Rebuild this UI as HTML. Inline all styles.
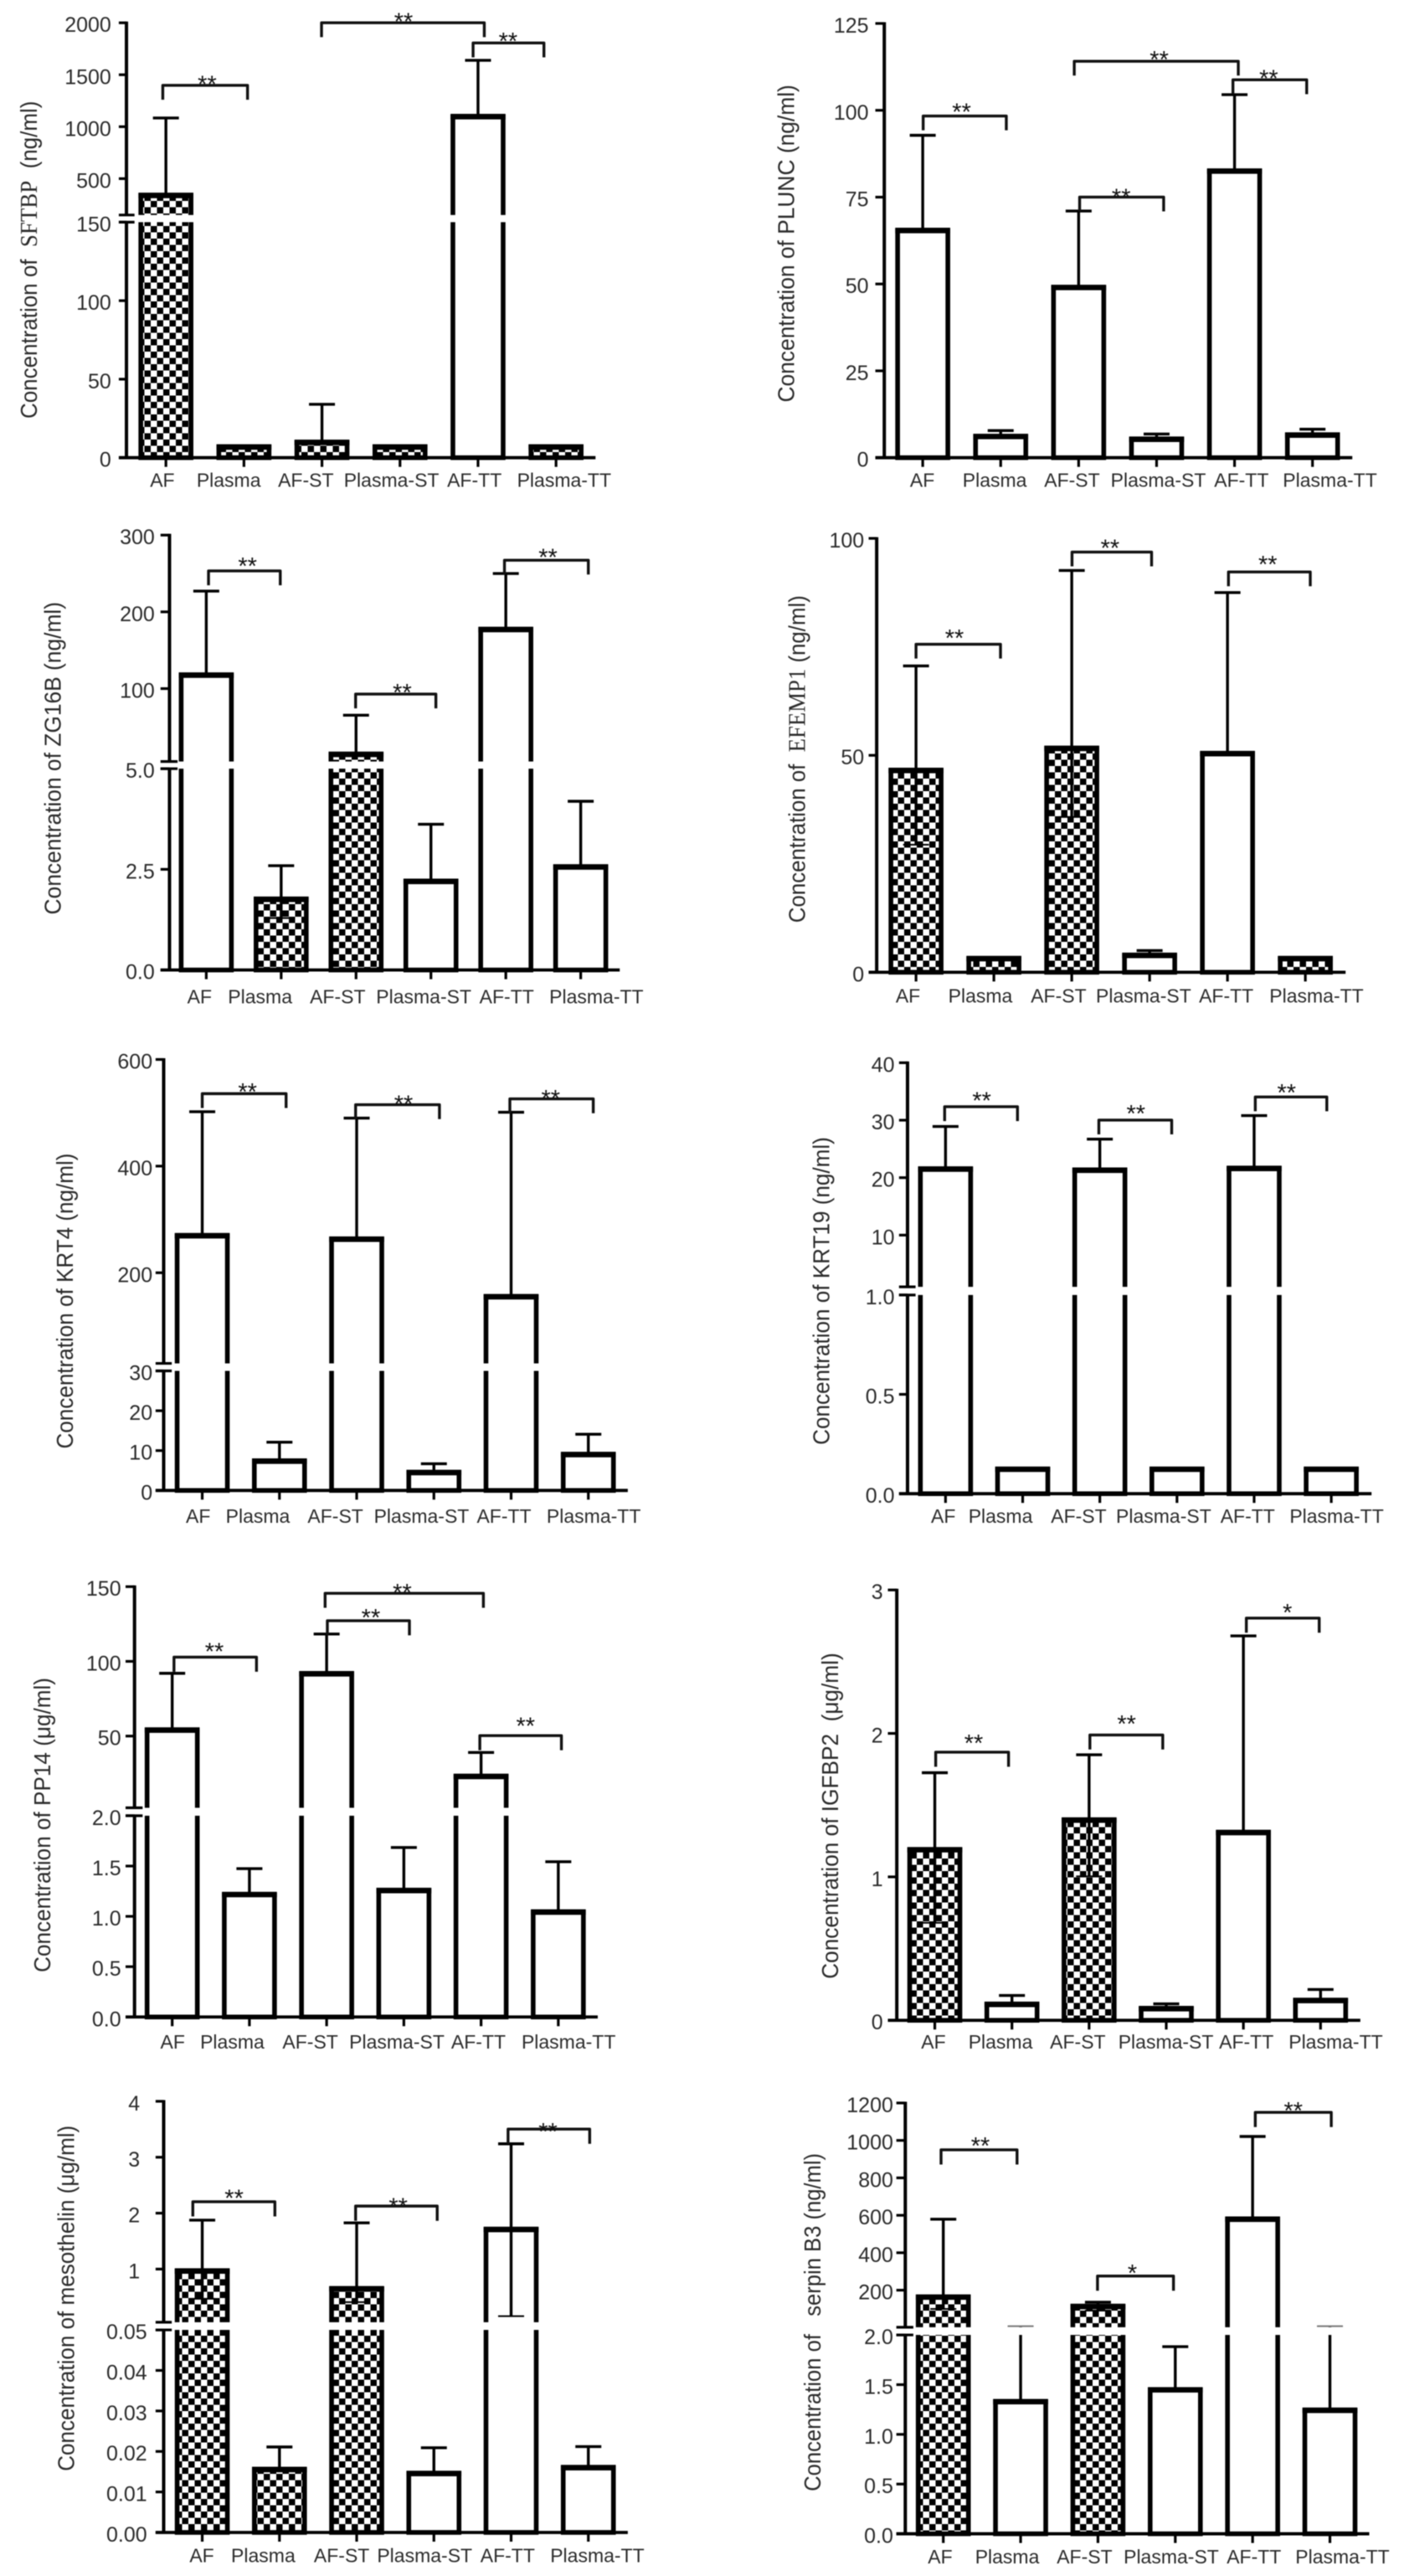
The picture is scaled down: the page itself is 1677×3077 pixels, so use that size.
<!DOCTYPE html>
<html lang="en">
<head>
<meta charset="utf-8">
<title>Protein concentration bar charts</title>
<style>
html,body{margin:0;padding:0;background:#fff;}
body{width:1677px;height:3077px;overflow:hidden;}
#figure{display:block;filter:blur(0.6px);}
text{font-family:"Liberation Sans",sans-serif;fill:#2b2b2b;white-space:pre;}
</style>
</head>
<body>
<svg id="figure" xmlns="http://www.w3.org/2000/svg" width="1677" height="3077" viewBox="0 0 1677 3077">
  <defs>
    <pattern id="checker" patternUnits="userSpaceOnUse" width="15" height="15">
      <rect width="15" height="15" fill="#fff"/>
      <rect width="7.5" height="7.5" fill="#000"/>
      <rect x="7.5" y="7.5" width="7.5" height="7.5" fill="#000"/>
    </pattern>
  </defs>
</svg>
<script>
// ---- shared categories ----
const categories = ['AF', 'Plasma', 'AF-ST', 'Plasma-ST', 'AF-TT', 'Plasma-TT'];

// ---- SFTBP ----
const sftbpDomain = [0, 150, 2000];
const sftbpValues = [338, 6.8, 9.75, 6.8, 1097, 6.8];
const sftbpErrors = [1084, null, 34, null, 1639, null];
const sftbpLowers = [null, null, null, null, null, null];
const sftbpFills = ['check', 'check', 'check', 'check', 'open', 'check'];
const sftbpTicks = [0, 50, 100, 150, 500, 1000, 1500, 2000];
const sftbpTickLabels = ['0', '50', '100', '150', '500', '1000', '1500', '2000'];

// ---- PLUNC ----
const pluncDomain = [0, 125];
const pluncValues = [65.4, 6.1, 49, 5.3, 82.5, 6.5];
const pluncErrors = [92.8, 7.8, 71, 6.8, 104.5, 8.2];
const pluncLowers = [null, null, null, null, null, null];
const pluncFills = ['open', 'open', 'open', 'open', 'open', 'open'];
const pluncTicks = [0, 25, 50, 75, 100, 125];
const pluncTickLabels = ['0', '25', '50', '75', '100', '125'];

// ---- ZG16B ----
const zg16bDomain = [0, 5, 300];
const zg16bValues = [117.5, 1.756, 14.3, 2.2, 177, 2.56];
const zg16bErrors = [227, 2.59, 65.3, 3.62, 250, 4.19];
const zg16bLowers = [null, 1.29, null, null, null, null];
const zg16bFills = ['open', 'check', 'check', 'open', 'open', 'open'];
const zg16bTicks = [0, 2.5, 5, 100, 200, 300];
const zg16bTickLabels = ['0.0', '2.5', '5.0', '100', '200', '300'];

// ---- EFEMP1 ----
const efemp1Domain = [0, 100];
const efemp1Values = [46.5, 3.15, 51.6, 3.9, 50.4, 3.15];
const efemp1Errors = [70.6, null, 92.6, 5.0, 87.5, null];
const efemp1Lowers = [29.4, null, 35.8, null, null, null];
const efemp1Fills = ['check', 'check', 'check', 'open', 'open', 'check'];
const efemp1Ticks = [0, 50, 100];
const efemp1TickLabels = ['0', '50', '100'];

// ---- KRT4 ----
const krt4Domain = [0, 30, 600];
const krt4Values = [269.5, 7.36, 263, 4.5, 155, 9];
const krt4Errors = [502, 12.1, 490, 6.7, 501, 14.1];
const krt4Lowers = [null, null, null, null, null, null];
const krt4Fills = ['open', 'open', 'open', 'open', 'open', 'open'];
const krt4Ticks = [0, 10, 20, 30, 200, 400, 600];
const krt4TickLabels = ['0', '10', '20', '30', '200', '400', '600'];

// ---- KRT19 ----
const krt19Domain = [0, 1, 40];
const krt19Values = [21.5, 0.123, 21.3, 0.123, 21.6, 0.123];
const krt19Errors = [28.9, null, 26.7, null, 30.8, null];
const krt19Lowers = [null, null, null, null, null, null];
const krt19Fills = ['open', 'open', 'open', 'open', 'open', 'open'];
const krt19Ticks = [0, 0.5, 1, 10, 20, 30, 40];
const krt19TickLabels = ['0.0', '0.5', '1.0', '10', '20', '30', '40'];

// ---- PP14 ----
const pp14Domain = [0, 2, 150];
const pp14Values = [54, 1.217, 91.7, 1.257, 23, 1.043];
const pp14Errors = [92, 1.474, 118.3, 1.684, 39, 1.543];
const pp14Lowers = [null, null, null, null, null, null];
const pp14Fills = ['open', 'open', 'open', 'open', 'open', 'open'];
const pp14Ticks = [0, 0.5, 1, 1.5, 2, 50, 100, 150];
const pp14TickLabels = ['0.0', '0.5', '1.0', '1.5', '2.0', '50', '100', '150'];

// ---- IGFBP2 ----
const igfbp2Domain = [0, 3];
const igfbp2Values = [1.189, 0.111, 1.396, 0.081, 1.309, 0.138];
const igfbp2Errors = [1.726, 0.173, 1.851, 0.115, 2.68, 0.215];
const igfbp2Lowers = [0.68, null, 1.004, null, null, null];
const igfbp2Fills = ['check', 'open', 'check', 'open', 'open', 'open'];
const igfbp2Ticks = [0, 1, 2, 3];
const igfbp2TickLabels = ['0', '1', '2', '3'];

// ---- mesothelin ----
const mesoDomain = [0, 0.05, 4];
const mesoValues = [0.966, 0.01554, 0.648, 0.01455, 1.708, 0.016];
const mesoErrors = [1.875, 0.0211, 1.827, 0.0209, 3.24, 0.0212];
const mesoLowers = [0.469, null, 0.409, null, 0.158, null];
const mesoFills = ['check', 'check', 'check', 'open', 'open', 'open'];
const mesoTicks = [0, 0.01, 0.02, 0.03, 0.04, 0.05, 1, 2, 3, 4];
const mesoTickLabels = ['0.00', '0.01', '0.02', '0.03', '0.04', '0.05', '1', '2', '3', '4'];

// ---- serpin B3 ----
const serpinDomain = [0, 2, 1200];
const serpinValues = [163, 1.329, 113, 1.448, 579, 1.242];
const serpinErrors = [579, 7.4, 136, 1.882, 1021, 7.4];
const serpinLowers = [100, null, 91, null, null, null];
const serpinFills = ['check', 'open', 'check', 'open', 'open', 'open'];
const serpinTicks = [0, 0.5, 1, 1.5, 2, 200, 400, 600, 800, 1000, 1200];
const serpinTickLabels = ['0.0', '0.5', '1.0', '1.5', '2.0', '200', '400', '600', '800', '1000', '1200'];

// ---- layout (all in source-crop units, converted with sx/sy) ----
const LEFT = {ox: 0, sx: 1.867};
const RIGHT = {ox: 840, sx: 1.873};
const panels = [
 {key:'sftbp', col:LEFT, oy:0, sy:2.57, domain:sftbpDomain, values:sftbpValues, errors:sftbpErrors, lowers:sftbpLowers, fills:sftbpFills, ticks:sftbpTicks, tickLabels:sftbpTickLabels,
  axisX:282, tickLeft:265, xRight:1328, y0:1405, lowTop:682, highBottom:660, top:70, firstX:370, stepX:174, labelRight:248,
  title:['Concentration of  ','SFTBP','  (ng/ml)'], titleX:82, titleY1:1285, titleY2:310, labelBase:1495, labelX:[362,510,682,873,1058,1258],
  brackets:[[363,552,262,462,240,'**'],[717,1080,70,900,47,'**'],[1055,1213,132,1133,108,'**']]},
 {key:'plunc', col:RIGHT, oy:0, sy:2.57, domain:pluncDomain, values:pluncValues, errors:pluncErrors, lowers:pluncLowers, fills:pluncFills, ticks:pluncTicks, tickLabels:pluncTickLabels,
  axisX:405, tickLeft:385, xRight:1452, y0:1405, top:72, firstX:491, stepX:174.4, labelRight:370,
  title:['Concentration of PLUNC (ng/ml)'], titleX:203, titleY1:1235, titleY2:260, labelBase:1495, labelX:[490,652,825,1018,1204,1402],
  brackets:[[492,678,356,578,325,'**'],[830,1197,188,1020,165,'**'],[842,1030,605,935,587,'**'],[1185,1350,245,1265,222,'**']]},
 {key:'zg16b', col:LEFT, oy:610, sy:2.57, domain:zg16bDomain, values:zg16bValues, errors:zg16bErrors, lowers:zg16bLowers, fills:zg16bFills, ticks:zg16bTicks, tickLabels:zg16bTickLabels,
  axisX:378, tickLeft:358, xRight:1382, y0:1410, lowTop:792, highBottom:770, top:75, firstX:460, stepX:167, labelRight:345,
  title:['Concentration of ZG16B (ng/ml)'], titleX:135, titleY1:1240, titleY2:280, labelBase:1512, labelX:[445,580,753,945,1130,1330],
  brackets:[[465,625,185,552,152,'**'],[793,972,563,897,540,'**'],[1125,1312,152,1222,125,'**']]},
 {key:'efemp1', col:RIGHT, oy:610, sy:2.57, domain:efemp1Domain, values:efemp1Values, errors:efemp1Errors, lowers:efemp1Lowers, fills:efemp1Fills, ticks:efemp1Ticks, tickLabels:efemp1TickLabels,
  axisX:388, tickLeft:370, xRight:1437, y0:1417, top:85, firstX:476, stepX:174.2, labelRight:360,
  title:['Concentration of  ','EFEMP1',' (ng/ml)'], titleX:228, titleY1:1265, titleY2:260, labelBase:1510, labelX:[458,620,795,985,1170,1372],
  brackets:[[476,665,410,562,373,'**'],[825,1003,127,910,97,'**'],[1175,1358,188,1263,147,'**']]},
 {key:'krt4', col:LEFT, oy:1220, sy:2.57, domain:krt4Domain, values:krt4Values, errors:krt4Errors, lowers:krt4Lowers, fills:krt4Fills, ticks:krt4Ticks, tickLabels:krt4TickLabels,
  axisX:365, tickLeft:347, xRight:1400, y0:1440, lowTop:1073, highBottom:1050, top:117, firstX:451, stepX:172.2, labelRight:340,
  title:['Concentration of KRT4 (ng/ml)'], titleX:162, titleY1:1312, titleY2:405, labelBase:1540, labelX:[442,575,748,940,1124,1324],
  brackets:[[451,638,222,552,198,'**'],[793,980,256,900,235,'**'],[1137,1323,238,1228,218,'**']]},
 {key:'krt19', col:RIGHT, oy:1220, sy:2.57, domain:krt19Domain, values:krt19Values, errors:krt19Errors, lowers:krt19Lowers, fills:krt19Fills, ticks:krt19Ticks, tickLabels:krt19TickLabels,
  axisX:457, tickLeft:438, xRight:1495, y0:1450, lowTop:840, highBottom:815, top:127, firstX:542, stepX:172.6, labelRight:428,
  title:['Concentration of KRT19 (ng/ml)'], titleX:282, titleY1:1300, titleY2:355, labelBase:1540, labelX:[537,665,840,1030,1218,1417],
  brackets:[[540,703,262,623,225,'**'],[885,1048,303,968,265,'**'],[1235,1395,232,1305,200,'**']]},
 {key:'pp14', col:LEFT, oy:1830, sy:2.529, domain:pp14Domain, values:pp14Values, errors:pp14Errors, lowers:pp14Lowers, fills:pp14Fills, ticks:pp14Ticks, tickLabels:pp14TickLabels,
  axisX:300, tickLeft:280, xRight:1333, y0:1465, lowTop:857, highBottom:833, top:165, firstX:384, stepX:172.2, labelRight:270,
  title:['Concentration of PP14 (\u03bcg/ml)'], titleX:112, titleY1:1330, titleY2:440, labelBase:1560, labelX:[385,518,692,885,1067,1268],
  brackets:[[388,572,378,478,343,'**'],[730,913,268,827,240,'**'],[725,1078,185,897,165,'**'],[1070,1252,615,1172,568,'**']]},
 {key:'igfbp2', col:RIGHT, oy:1830, sy:2.529, domain:igfbp2Domain, values:igfbp2Values, errors:igfbp2Errors, lowers:igfbp2Lowers, fills:igfbp2Fills, ticks:igfbp2Ticks, tickLabels:igfbp2TickLabels,
  axisX:433, tickLeft:413, xRight:1470, y0:1475, top:175, firstX:518, stepX:172.6, labelRight:402,
  title:['Concentration of IGFBP2  (\u03bcg/ml)'], titleX:302, titleY1:1350, titleY2:365, labelBase:1560, labelX:[515,665,838,1035,1215,1415],
  brackets:[[520,683,665,605,620,'**'],[865,1028,613,947,562,'**'],[1215,1378,260,1307,225,'*']]},
 {key:'mesothelin', col:LEFT, oy:2450, sy:2.501, domain:mesoDomain, values:mesoValues, errors:mesoErrors, lowers:mesoLowers, fills:mesoFills, ticks:mesoTicks, tickLabels:mesoTickLabels,
  axisX:365, tickLeft:347, xRight:1400, y0:1438, lowTop:833, highBottom:810, top:150, firstX:451, stepX:172.2, labelRight:328, labelRightHigh:312,
  title:['Concentration of mesothelin (\u03bcg/ml)'], titleX:165, titleY1:1255, titleY2:222, labelBase:1527, labelX:[450,587,762,947,1132,1332],
  brackets:[[430,613,450,522,422,'**'],[793,975,463,888,447,'**'],[1133,1315,233,1222,222,'**']]},
 {key:'serpin', col:RIGHT, oy:2450, sy:2.501, domain:serpinDomain, values:serpinValues, errors:serpinErrors, lowers:serpinLowers, fills:serpinFills, ticks:serpinTicks, tickLabels:serpinTickLabels,
  axisX:452, tickLeft:432, xRight:1490, y0:1442, lowTop:848, highBottom:825, top:155, firstX:537, stepX:173, labelRight:425,
  title:['Concentration of   serpin B3 (ng/ml)'], titleX:262, titleY1:1315, titleY2:305, labelBase:1530, labelX:[530,680,853,1047,1232,1430],
  brackets:[[532,702,295,620,265,'**'],[882,1052,672,960,645,'*'],[1235,1405,183,1320,160,'**']]}
];

const SVG_NS = 'http://www.w3.org/2000/svg';
const root = document.getElementById('figure');

function add(parent, tag, attrs, text) {
  const node = document.createElementNS(SVG_NS, tag);
  for (const k in attrs) node.setAttribute(k, attrs[k]);
  if (text !== undefined) node.textContent = text;
  parent.appendChild(node);
  return node;
}

function drawPanel(p) {
  const X = u => p.col.ox + u / p.col.sx;
  const Y = u => p.oy + u / p.sy;
  const hasBreak = p.domain.length === 3;
  const maxValue = p.domain[p.domain.length - 1];
  const breakValue = hasBreak ? p.domain[1] : maxValue;

  // axis functions
  const yScale = v => {
    if (!hasBreak) return Y(p.y0 + (p.top - p.y0) * v / maxValue);
    if (v <= breakValue) return Y(p.y0 + (p.lowTop - p.y0) * v / breakValue);
    return Y(p.highBottom + (p.top - p.highBottom) * (v - breakValue) / (maxValue - breakValue));
  };
  const xScale = i => X(p.firstX + i * p.stepX);

  const g = add(root, 'g', {});
  
  

  // bars
  p.values.forEach((v, i) => {
    const cx = xScale(i);
    const y = yScale(v);
    const bar = add(g, 'rect', {x: cx - 30, y: y, width: 60, height: Math.max(0, Y(p.y0) - y),
      fill: p.fills[i] === 'check' ? 'url(#checker)' : '#fff', stroke: '#000', 'stroke-width': 5.6});
    
    
    const lid = add(g, 'line', {x1: cx - 32.8, x2: cx + 32.8, y1: y, y2: y, stroke: '#000', 'stroke-width': 6.6});
    
    
  });

  // error bars
  p.values.forEach((v, i) => {
    const cx = xScale(i);
    const up = p.errors[i];
    const low = p.lowers[i];
    if (up === null && low === null) return;
    const y1 = up === null ? yScale(v) : yScale(up);
    const y2 = low === null ? yScale(v) : yScale(low);
    const stem = add(g, 'line', {x1: cx, x2: cx, y1: y1, y2: y2, stroke: '#000', 'stroke-width': 3.4});
    
    
    if (up !== null) {
      const nearBreak = hasBreak && Math.abs(y1 - Y(p.highBottom)) < 3;
      const capTop = add(g, 'line', {x1: cx - 15.5, x2: cx + 15.5, y1: y1, y2: y1,
        stroke: nearBreak ? '#777' : '#000', 'stroke-width': nearBreak ? 2 : 3.4});
      
      
    }
    if (low !== null) {
      const capLow = add(g, 'line', {x1: cx - 15.5, x2: cx + 15.5, y1: y2, y2: y2, stroke: '#000', 'stroke-width': 2});
      
      
    }
  });

  // y axis
  const yAxis = add(g, 'line', {x1: X(p.axisX), x2: X(p.axisX), y1: Y(p.top) - 1.5, y2: Y(p.y0), stroke: '#000', 'stroke-width': 4});
  
  

  // break gap
  if (hasBreak) {
    const gap = add(g, 'rect', {x: X(p.tickLeft), y: Y(p.highBottom), width: X(p.xRight) - X(p.tickLeft), height: Y(p.lowTop) - Y(p.highBottom), fill: '#fff'});
    
    
    [p.highBottom, p.lowTop].forEach(u => {
      const mark = add(g, 'line', {x1: X(p.tickLeft), x2: X(p.axisX + 18), y1: Y(u), y2: Y(u), stroke: '#000', 'stroke-width': 3.2});
      
      
    });
  }

  // y ticks + labels
  p.ticks.forEach((t, i) => {
    const y = yScale(t);
    const tick = add(g, 'line', {x1: X(p.tickLeft), x2: X(p.axisX), y1: y, y2: y, stroke: '#000', 'stroke-width': 3.2});
    
    
    const right = (hasBreak && t > breakValue && p.labelRightHigh) ? p.labelRightHigh : p.labelRight;
    const label = add(g, 'text', {x: X(right), y: y + 11, 'text-anchor': 'end', 'font-size': 25}, p.tickLabels[i]);
    
    
  });

  // x axis
  const xAxis = add(g, 'line', {x1: X(p.tickLeft), x2: X(p.xRight), y1: Y(p.y0), y2: Y(p.y0), stroke: '#000', 'stroke-width': 3.8});
  
  

  categories.forEach((c, i) => {
    const tick = add(g, 'line', {x1: xScale(i), x2: xScale(i), y1: Y(p.y0), y2: Y(p.y0) + 11, stroke: '#000', 'stroke-width': 3.2});
    
    
    const label = add(g, 'text', {x: X(p.labelX[i]), y: Y(p.labelBase), 'text-anchor': 'middle', 'font-size': 23}, c);
    
    
  });

  // axis title
  const tx = X(p.titleX);
  const ty = Y(p.titleY1);
  const title = add(g, 'text', {x: tx, y: ty, transform: 'rotate(-90 ' + tx + ' ' + ty + ')', 'font-size': 28,
    textLength: Y(p.titleY1) - Y(p.titleY2), lengthAdjust: 'spacingAndGlyphs'});
  
  
  p.title.forEach((part, i) => {
    const span = add(title, 'tspan', p.title.length === 3 && i === 1 ? {style: 'font-family:"Liberation Serif",serif;font-size:29px'} : {}, part);
    
    
  });

  // significance brackets
  p.brackets.forEach(b => {
    const x1 = X(b[0]), x2 = X(b[1]), y = Y(b[2]), end = Y(b[2] + 44);
    const path = add(g, 'polyline', {points: x1 + ',' + end + ' ' + x1 + ',' + y + ' ' + x2 + ',' + y + ' ' + x2 + ',' + end,
      fill: 'none', stroke: '#111', 'stroke-width': 3.4, 'stroke-linejoin': 'round'});
    
    
    const star = add(g, 'text', {x: X(b[3]), y: Y(b[4]) + 17, 'text-anchor': 'middle', 'font-size': 29, style: 'fill:#111'}, b[5]);
    
    
  });
}

panels.forEach(drawPanel);
</script>
</body>
</html>
